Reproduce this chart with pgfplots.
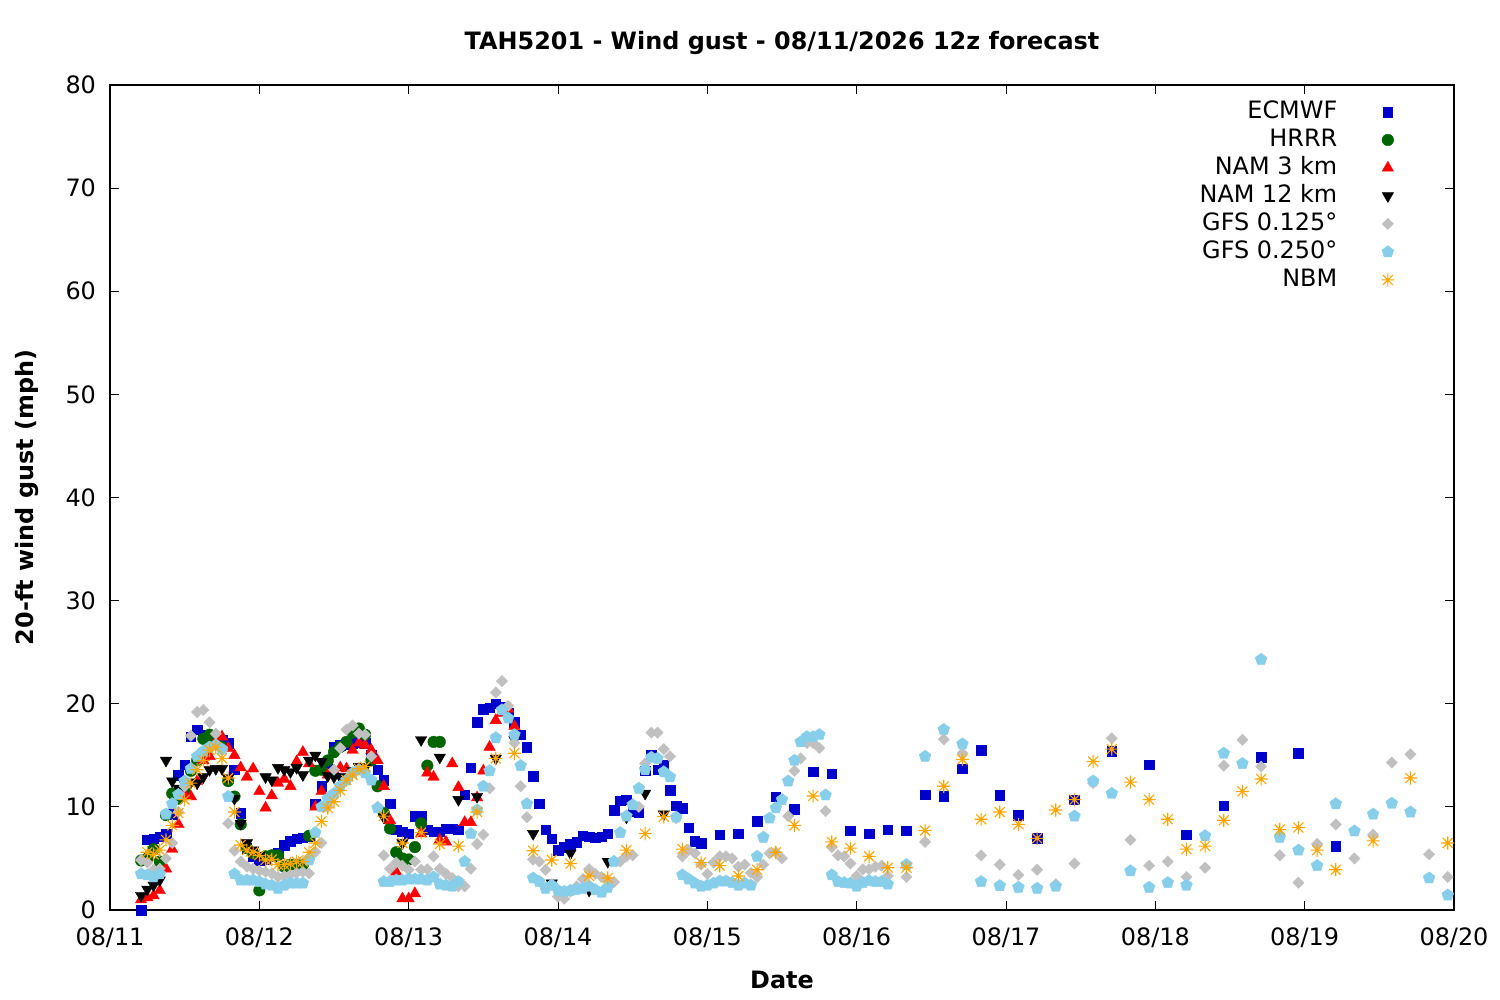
\documentclass[border=0pt]{standalone}
\usepackage{fontspec}
\setmainfont{DejaVu Sans}
\usepackage{pgfplots}
\pgfplotsset{compat=1.18}
\usetikzlibrary{plotmarks}
\definecolor{ecblue}{RGB}{0,0,205}
\definecolor{hrgreen}{RGB}{0,100,0}
\definecolor{gfsgray}{RGB}{192,192,192}
\definecolor{gfsblue}{RGB}{135,206,235}
\definecolor{nbmorange}{RGB}{255,165,0}
\pgfdeclareplotmark{gstar}{%
  \pgfpathmoveto{\pgfqpoint{-\pgfplotmarksize}{0pt}}\pgfpathlineto{\pgfqpoint{\pgfplotmarksize}{0pt}}%
  \pgfpathmoveto{\pgfqpoint{0pt}{-\pgfplotmarksize}}\pgfpathlineto{\pgfqpoint{0pt}{\pgfplotmarksize}}%
  \pgfpathmoveto{\pgfqpoint{-0.75\pgfplotmarksize}{-0.75\pgfplotmarksize}}\pgfpathlineto{\pgfqpoint{0.75\pgfplotmarksize}{0.75\pgfplotmarksize}}%
  \pgfpathmoveto{\pgfqpoint{-0.75\pgfplotmarksize}{0.75\pgfplotmarksize}}\pgfpathlineto{\pgfqpoint{0.75\pgfplotmarksize}{-0.75\pgfplotmarksize}}%
  \pgfusepathqstroke}
\begin{document}
\begin{tikzpicture}
\path[use as bounding box] (-55bp,-45bp) rectangle (695bp,455bp);
\begin{axis}[
  at={(0,0)}, anchor=south west,
  scale only axis, width=672bp, height=412.5bp,
  xmin=0, xmax=216, ymin=0, ymax=80,
  xtick={0,24,...,216},
  xticklabels={08/11,08/12,08/13,08/14,08/15,08/16,08/17,08/18,08/19,08/20},
  ytick={0,10,...,80},
  tick align=inside, major tick length=4.5bp,
  every tick/.style={black, line width=0.5bp},
  axis line style={line width=0.6bp},
  font=\fontsize{12}{14}\selectfont,
  /pgf/number format/assume math mode=true,
  tick label style={font=\fontsize{12}{14}\selectfont},
  xticklabel style={yshift=-5.5bp},
  yticklabel style={xshift=-3.5bp},
  every axis title shift=0pt,
  title={TAH5201 - Wind gust - 08/11/2026 12z forecast},
  title style={at={(0.5,1.0509)}, anchor=center, font=\fontsize{12}{14}\selectfont\bfseries},
  xlabel={Date},
  xlabel style={at={(0.5,-0.0848)}, anchor=center, font=\fontsize{12}{14}\selectfont\bfseries},
  ylabel={20-ft wind gust (mph)},
  ylabel style={at={(-0.0618,0.5)}, anchor=center, font=\fontsize{12}{14}\selectfont\bfseries},
  legend plot pos=right,
  legend cell align=right,
  legend style={draw=none, fill=none, at={(0.956,0.983)}, anchor=north east,
    row sep=1.5bp, inner sep=0pt,
    nodes={inner xsep=2bp, inner ysep=0.5bp, text height=9bp, text depth=2.5bp},
    /tikz/every odd column/.append style={column sep=20bp},
    font=\fontsize{12}{14}\selectfont},
]
% ECMWF
\addplot[only marks, mark=square*, mark size=2.4bp, color=ecblue, mark options={line width=0.2bp}] coordinates {
(5,0) (6,6.8) (7,6.9) (8,7.1) (9,7.4) (10,9.3) (11,13.1) (12,14.1) (13,16.8) (14,17.5) (15,17.0) (16,16.8) (17,16.6) (18,16.5) (19,16.2) (20,13.6) (21,9.4) (22,6.0) (23,5.2) (24,4.8)
(25,4.9) (26,5.2) (27,5.5) (28,6.3) (29,6.7) (30,6.9) (31,7.0) (32,7.1) (33,10.3) (34,12.0) (35,14.0) (36,15.8) (37,16.0) (38,16.1) (39,16.2) (40,16.3) (41,16.2) (42,15.0) (43,13.6) (44,12.6)
(45,10.3) (46,7.8) (47,7.6) (48,7.4) (49,9.1) (50,9.1) (51,7.8) (52,7.6) (53,7.6) (54,7.9) (55,7.9) (56,7.8) (57,11.2) (58,13.8) (59,18.2) (60,19.5) (61,19.6) (62,20.0) (63,19.7) (64,19.1)
(65,18.2) (66,17.0) (67,15.8) (68,13.0) (69,10.3) (70,7.8) (71,6.9) (72,5.8) (73,6.1) (74,6.4) (75,6.6) (76,7.2) (77,7.1) (78,7.0) (79,7.1) (80,7.4) (81,9.7) (82,10.6) (83,10.7) (84,9.6)
(85,9.5) (86,13.5) (87,15.0) (88,13.6) (89,14.1) (90,11.6) (91,10.1) (92,9.9) (93,8.0) (94,6.7) (95,6.5) (98,7.3) (101,7.4) (104,8.6) (107,11.0) (110,9.8) (113,13.4) (116,13.2) (119,7.7) (122,7.4)
(125,7.8) (128,7.7) (131,11.2) (134,11.05) (137,13.7) (140,15.5) (143,11.15) (146,9.2) (149,6.95) (155,10.7) (161,15.4) (167,14.1) (173,7.3) (179,10.1) (185,14.8) (191,15.2) (197,6.2)
};
\addlegendentry{ECMWF}
% HRRR
\addplot[only marks, mark=*, mark size=2.9bp, color=hrgreen, mark options={line width=0.2bp}] coordinates {
(5,4.8) (6,5.0) (7,5.9) (8,4.7) (9,9.2) (10,11.3) (11,10.8) (12,11.5) (13,13.5) (14,14.5) (15,16.6) (16,17.0) (17,16.5) (18,15.8) (19,12.5) (20,11.0) (21,8.3) (22,6.0) (23,5.5) (24,1.9)
(25,5.2) (26,5.3) (27,5.3) (28,4.2) (29,4.4) (30,4.4) (31,4.4) (32,7.2) (33,13.5) (34,13.6) (35,14.5) (36,15.3) (37,15.8) (38,16.3) (39,17.2) (40,17.6) (41,17.0) (42,14.5) (43,12.0) (44,9.4)
(45,7.9) (46,5.6) (47,5.0) (48,4.9) (49,6.1) (50,8.4) (51,14.0) (52,16.3) (53,16.3)
};
\addlegendentry{HRRR}
% NAM 3 km
\addplot[only marks, mark=triangle*, mark size=3.3bp, color=red, mark options={line width=0.2bp}] coordinates {
(5,1.0) (6,1.2) (7,1.4) (8,1.9) (9,4.0) (10,5.9) (11,8.3) (12,11.2) (13,11.0) (14,12.5) (15,14.5) (16,14.9) (17,16.3) (18,16.8) (19,15.7) (20,15.0) (21,13.8) (22,12.9) (23,13.7) (24,11.5)
(25,9.9) (26,11.1) (27,12.3) (28,12.7) (29,12.0) (30,14.4) (31,15.3) (32,14.2) (33,10.0) (34,11.5) (35,13.1) (36,13.5) (37,13.8) (38,13.7) (39,15.5) (40,16.2) (41,16.0) (42,15.5) (43,14.5) (44,12.0)
(45,8.7) (46,3.7) (47,1.1) (48,1.1) (49,1.6) (50,7.4) (51,13.3) (52,12.9) (53,6.8) (54,6.6) (55,14.2) (56,11.9) (57,8.5) (58,8.5) (59,10.9) (60,13.5) (61,15.8) (62,18.4) (63,19.1) (64,19.5)
(65,17.8)
};
\addlegendentry{NAM 3 km}
% NAM 12 km
\addplot[only marks, mark=triangle*, mark size=3.3bp, color=black, mark options={rotate=180, line width=0.2bp}] coordinates {
(5,1.4) (6,2.0) (7,2.4) (8,2.9) (9,14.5) (10,12.5) (11,11.8) (12,12.2) (13,12.4) (14,12.3) (15,12.9) (16,13.6) (17,13.7) (18,13.7) (19,12.8) (20,10.8) (21,8.4) (22,6.5) (23,5.8) (24,5.3)
(25,12.9) (26,12.6) (27,13.8) (28,13.6) (29,13.4) (30,13.8) (31,13.1) (32,14.5) (33,15.0) (34,14.4) (35,13.0) (36,12.9) (37,12.9) (38,12.8) (39,13.5) (40,13.9) (41,13.8)
(44,9.0) (47,6.5) (50,16.5) (53,14.8) (56,10.7) (59,11.0) (62,14.7) (65,16.5) (68,7.4) (71,2.6) (74,5.5) (77,1.9) (80,4.7) (83,9.0) (86,11.3) (89,9.3)
};
\addlegendentry{NAM 12 km}
% GFS 0.125
\addplot[only marks, mark=square*, mark size=2.0bp, color=gfsgray, mark options={rotate=45, line width=0.2bp}] coordinates {
(5,4.85) (6,4.6) (7,3.9) (8,4.0) (9,5.0) (10,6.5) (11,9.5) (12,12.0) (13,16.9) (14,19.2) (15,19.4) (16,18.2) (17,17.1) (18,15.5) (19,8.4) (20,5.75) (21,4.7) (22,4.2) (23,4.0) (24,3.8)
(25,3.7) (26,3.55) (27,3.2) (28,3.3) (29,3.4) (30,3.6) (31,3.7) (32,3.55) (33,5.65) (34,6.5) (35,10.0) (36,13.6) (37,15.7) (38,17.5) (39,17.9) (40,17.1) (41,17.0) (42,14.9) (43,10.0) (44,5.3)
(45,4.0) (46,4.6) (47,4.3) (48,3.9) (49,4.7) (50,3.9) (51,3.95) (52,5.2) (53,4.0) (54,3.5) (55,3.1) (56,2.3) (57,2.3) (58,4.0) (59,6.4) (60,7.3) (61,11.8) (62,21.1) (63,22.2) (64,19.8)
(65,16.2) (66,12.0) (67,9.0) (68,4.9) (69,4.7) (70,3.9) (71,2.5) (72,1.3) (73,1.1) (74,1.8) (75,2.3) (76,3.0) (77,3.95) (78,3.5) (79,3.2) (80,2.9) (81,2.7) (82,4.7) (83,5.2) (84,5.3)
(85,10.0) (86,14.2) (87,17.2) (88,17.2) (89,15.6) (90,14.9) (91,8.9) (92,5.2) (93,5.8) (94,5.5) (95,4.4) (96,3.5) (97,4.6) (98,5.2) (99,5.2) (100,5.0) (101,4.2) (102,4.4) (103,3.6) (104,3.2)
(105,4.4) (106,5.5) (107,5.6) (108,5.0) (109,9.1) (110,13.5) (111,14.7) (112,16.2) (113,16.2) (114,15.7) (115,9.6) (116,6.1) (117,5.3) (118,5.2) (119,4.5) (120,3.3) (121,3.95) (122,3.95) (123,4.2) (124,4.3)
(125,3.3) (128,3.2) (131,6.6) (134,16.55) (137,15.2) (140,5.3) (143,4.4) (146,3.4) (149,3.9) (152,2.5) (155,4.5) (158,12.3) (161,16.65) (164,6.8) (167,4.3) (170,4.7) (173,3.2) (176,4.1) (179,14.0) (182,16.5)
(185,13.9) (188,5.3) (191,2.65) (194,6.4) (197,8.3) (200,5.0) (203,7.3) (206,14.3) (209,15.1) (212,5.4) (215,3.2)
};
\addlegendentry{GFS 0.125°}
% GFS 0.250
\addplot[only marks, mark=pentagon*, mark size=3.1bp, color=gfsblue, mark options={line width=0.2bp}] coordinates {
(5,3.5) (6,3.4) (7,3.2) (8,3.5) (9,9.3) (10,10.3) (11,11.2) (12,12.5) (13,13.7) (14,14.9) (15,15.4) (16,15.8) (17,16.0) (18,15.6) (19,11.0) (20,3.5) (21,2.9) (22,2.9) (23,2.9) (24,2.75)
(25,2.5) (26,2.4) (27,2.1) (28,2.4) (29,2.6) (30,2.6) (31,2.6) (32,4.85) (33,7.5) (34,10.0) (35,10.8) (36,11.3) (37,12.0) (38,12.6) (39,13.3) (40,13.6) (41,13.3) (42,12.6) (43,9.9) (44,2.75)
(45,2.75) (46,2.9) (47,2.9) (48,3.0) (49,3.0) (50,3.0) (51,2.9) (52,3.2) (53,2.5) (54,2.4) (55,2.3) (56,2.75) (57,4.7) (58,7.4) (59,9.7) (60,12.0) (61,13.5) (62,16.7) (63,19.4) (64,18.6)
(65,17.0) (66,14.0) (67,10.3) (68,3.1) (69,2.75) (70,2.1) (71,2.4) (72,1.9) (73,1.8) (74,1.9) (75,2.0) (76,2.1) (77,2.3) (78,1.95) (79,1.7) (80,2.2) (81,4.7) (82,7.5) (83,9.1) (84,10.2)
(85,11.8) (86,13.6) (87,14.8) (88,14.7) (89,13.4) (90,12.9) (91,9.0) (92,3.4) (93,3.0) (94,2.6) (95,2.3) (96,2.4) (97,2.6) (98,2.8) (99,2.8) (100,2.65) (101,2.4) (102,2.6) (103,2.4) (104,5.2)
(105,7.05) (106,8.9) (107,9.9) (108,10.7) (109,12.5) (110,14.5) (111,16.3) (112,16.8) (113,16.8) (114,17.0) (115,11.15) (116,3.4) (117,2.75) (118,2.65) (119,2.6) (120,2.3) (121,2.65) (122,2.85) (123,2.75) (124,2.75)
(125,2.5) (128,4.4) (131,14.9) (134,17.5) (137,16.1) (140,2.75) (143,2.35) (146,2.2) (149,2.1) (152,2.3) (155,9.1) (158,12.5) (161,11.3) (164,3.8) (167,2.2) (170,2.65) (173,2.4) (176,7.2) (179,15.2) (182,14.2)
(185,24.3) (188,7.05) (191,5.8) (194,4.3) (197,10.3) (200,7.66) (203,9.3) (206,10.35) (209,9.5) (212,3.1) (215,1.45)
};
\addlegendentry{GFS 0.250°}
% NBM
\addplot[only marks, mark=gstar, mark size=3.3bp, color=nbmorange, mark options={line width=0.55bp}] coordinates {
(6,5.6) (7,5.4) (8,5.8) (9,6.8) (10,8.2) (11,9.4) (12,10.7) (13,12.3) (14,13.6) (15,14.5) (16,15.5) (17,15.8) (18,14.7) (19,12.8) (20,9.5) (21,6.3) (22,5.8) (23,5.6) (24,5.3)
(25,4.85) (26,4.9) (27,4.4) (28,4.4) (29,4.5) (30,4.7) (31,4.7) (32,5.6) (33,6.5) (34,8.6) (35,9.9) (36,10.5) (37,11.6) (38,12.6) (39,13.1) (40,13.7) (41,13.9)
(44,9.1) (47,6.5) (50,7.5) (53,6.4) (56,6.2) (59,9.5) (62,14.7) (65,15.2) (68,5.75) (71,4.85) (74,4.5) (77,3.3) (80,3.1) (83,5.8) (86,7.4) (89,9.05) (92,5.9) (95,4.6) (98,4.3) (101,3.3)
(104,3.9) (107,5.6) (110,8.2) (113,11.05) (116,6.6) (119,6.0) (122,5.2) (125,4.1) (128,4.1) (131,7.7) (134,12.0) (137,14.6) (140,8.8) (143,9.5) (146,8.3) (149,6.95) (152,9.7) (155,10.7) (158,14.4) (161,15.6)
(164,12.4) (167,10.7) (170,8.8) (173,5.9) (176,6.2) (179,8.7) (182,11.5) (185,12.7) (188,7.8) (191,8.0) (194,5.8) (197,3.9) (203,6.7) (209,12.8) (215,6.5)
};
\addlegendentry{NBM}
\end{axis}
\end{tikzpicture}
\end{document}
